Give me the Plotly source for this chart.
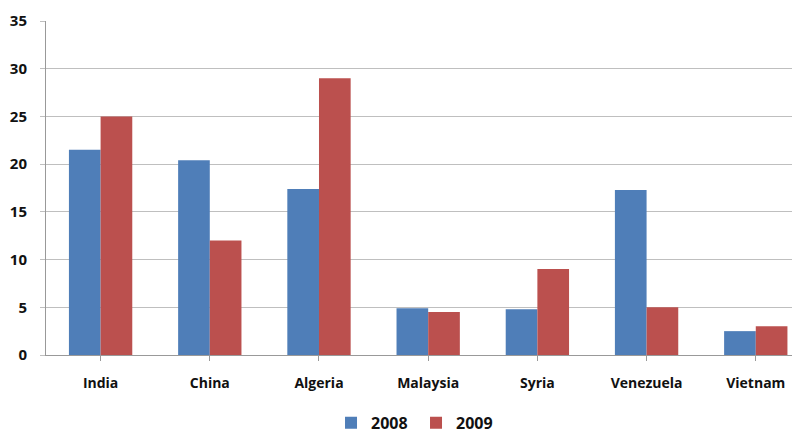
import plotly.graph_objects as go

categories = ["India", "China", "Algeria", "Malaysia", "Syria", "Venezuela", "Vietnam"]
values_2008 = [21.5, 20.4, 17.4, 4.9, 4.8, 17.3, 2.5]
values_2009 = [25.0, 12.0, 29.0, 4.5, 9.0, 5.0, 3.0]

fam = "Open Sans, Liberation Sans, Arial"
fig = go.Figure()
fig.add_trace(go.Bar(name="2008", x=categories, y=values_2008, marker=dict(color="#4F7EB8", line=dict(width=0))))
fig.add_trace(go.Bar(name="2009", x=categories, y=values_2009, marker=dict(color="#BB504E", line=dict(width=0))))

fig.update_layout(
    width=792, height=427,
    margin=dict(l=38, r=0, t=13, b=80, autoexpand=False),
    barmode="group", bargap=0.42, bargroupgap=0,
    plot_bgcolor="white", paper_bgcolor="white",
    font=dict(family=fam, size=14, color="#111111", weight="bold"),
    showlegend=True,
    legend=dict(orientation="h", x=0.378, xanchor="left", y=-0.152, yanchor="top",
                font=dict(family=fam, size=16, color="#111111", weight="bold"),
                itemwidth=30, entrywidth=40, entrywidthmode="pixels", traceorder="normal"),
    xaxis=dict(range=[-0.5, 6.405], showline=True, linecolor="#999999", linewidth=1,
               ticks="outside", ticklen=5, tickcolor="#999999", showgrid=False,
               automargin=False, ticklabelstandoff=10,
               tickfont=dict(family=fam, size=14, color="#111111", weight="bold")),
    yaxis=dict(range=[0, 35], dtick=5, showgrid=True, gridcolor="#BFBFBF", gridwidth=1,
               showline=True, linecolor="#999999", linewidth=1, ticks="outside", ticklen=5,
               tickcolor="#BFBFBF", zeroline=False, automargin=False, ticklabelstandoff=10,
               tickfont=dict(family=fam, size=15, color="#111111", weight="bold")),
)
fig.write_html("out.html")
